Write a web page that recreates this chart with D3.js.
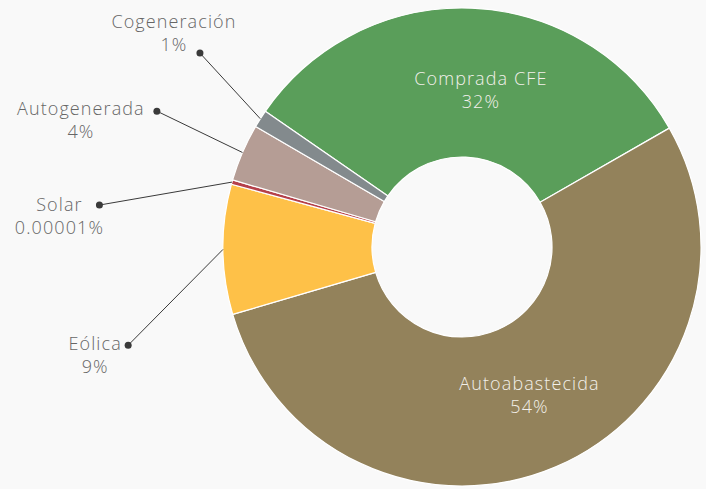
<!DOCTYPE html>
<html>
<head>
<meta charset="utf-8">
<script src="https://cdn.jsdelivr.net/npm/d3@7"></script>
<style>
  body { margin: 0; background: #f9f9f9; }
  text { font-family: "Open Sans", Lato, sans-serif; font-weight: 300; letter-spacing: 1.1px; }
</style>
</head>
<body>
<div id="chart-area"></div>
<script>
// shares of energy source (percent), clockwise from Comprada CFE
const categories = ["Comprada CFE", "Autoabastecida", "Eólica", "Solar", "Autogenerada", "Cogeneración"];
const shares = [32.2, 53.9, 8.8, 0.3, 3.9, 1.2];
const shareLabels = ["32%", "54%", "9%", "0.00001%", "4%", "1%"];
const colors = ["#5a9e5a", "#93825b", "#fec148", "#b5404a", "#b59d95", "#838a8d"];

const chart = { width: 706, height: 489 };
const cx = 462, cy = 247;
const outer = 239, inner = 90;

// outside labels: dot angle (deg), dot radius, text offset from dot
const outside = {
  "Cogeneración": { a: 306.5, r: 326, dx: -26, dy: -31 },
  "Autogenerada": { a: 294, r: 334, dx: -76, dy: -2 },
  "Solar": { a: 276.6, r: 365, dx: -40, dy: 0 },
  "Eólica": { a: 253.6, r: 348, dx: -33, dy: -1 }
};
// small nudges for the inside labels
const insideNudge = {
  "Comprada CFE": [12, 2],
  "Autoabastecida": [3, -8]
};

const data = categories.map((c, i) => ({
  name: c, value: shares[i], label: shareLabels[i], color: colors[i]
}));

const svg = d3.select("#chart-area").append("svg")
  .attr("width", chart.width)
  .attr("height", chart.height);

svg.append("rect")
  .attr("width", chart.width)
  .attr("height", chart.height)
  .attr("fill", "#f9f9f9");

const g = svg.append("g").attr("transform", `translate(${cx}, ${cy})`);

const rad = deg => deg * Math.PI / 180;
const start = rad(-55.4);

const pie = d3.pie().sort(null).value(d => d.value)
  .startAngle(start).endAngle(start + 2 * Math.PI);

const arc = d3.arc().innerRadius(inner).outerRadius(outer);

const arcs = pie(data);

g.selectAll("path.slice")
  .data(arcs)
  .enter()
  .append("path")
  .attr("class", "slice")
  .attr("d", arc)
  .attr("fill", d => d.data.color)
  .attr("stroke", "#ffffff")
  .attr("stroke-width", 1.2)
  .attr("stroke-linejoin", "round");

// inside labels for the big slices
arcs.filter(d => insideNudge[d.data.name]).forEach(d => {
  const [x, y] = arc.centroid(d);
  const [nx, ny] = insideNudge[d.data.name];
  const t = g.append("text")
    .attr("text-anchor", "middle")
    .attr("fill", "#f2f0ea")
    .style("font-size", "18px");
  t.append("tspan").attr("x", x + nx).attr("y", y + ny).text(d.data.name);
  t.append("tspan").attr("x", x + nx).attr("y", y + ny + 23).text(d.data.label);
});

// outside labels with connectors
const pt = (a, r) => [Math.sin(a) * r, -Math.cos(a) * r];

arcs.filter(d => outside[d.data.name]).forEach(d => {
  const o = outside[d.data.name];
  const mid = (d.startAngle + d.endAngle) / 2;
  const [x0, y0] = pt(mid, outer);
  const [x1, y1] = pt(rad(o.a), o.r);

  g.append("line")
    .attr("x1", x0).attr("y1", y0)
    .attr("x2", x1).attr("y2", y1)
    .attr("stroke", "#3a3a3a")
    .attr("stroke-width", 1);

  g.append("circle")
    .attr("cx", x1).attr("cy", y1)
    .attr("r", 3.5)
    .attr("fill", "#3a3a3a");

  const t = g.append("text")
    .attr("text-anchor", "middle")
    .attr("fill", "#666666")
    .style("font-size", "18px");
  t.append("tspan").attr("x", x1 + o.dx).attr("y", y1 + o.dy + 6).text(d.data.name);
  t.append("tspan").attr("x", x1 + o.dx).attr("y", y1 + o.dy + 29).text(d.data.label);
});
</script>
</body>
</html>
